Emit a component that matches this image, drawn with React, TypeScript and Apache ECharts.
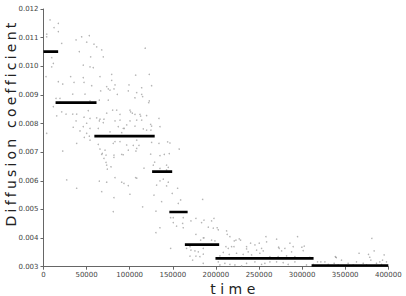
import React, { useEffect, useRef } from 'react';
import * as echarts from 'echarts';

// [time, diffusion coefficient] samples
const samples: [number, number][] = [
  [7500, 0.01162], [17200, 0.0115], [12200, 0.01135], [17200, 0.01121], [3700, 0.01112],
  [3700, 0.01103], [44300, 0.01103], [53100, 0.01107], [37700, 0.01092], [21100, 0.0108],
  [50100, 0.01084], [58500, 0.01077], [61700, 0.01068], [67500, 0.01057], [41500, 0.01051],
  [9500, 0.0103], [54700, 0.01033], [69300, 0.01033], [11400, 0.0101], [9500, 0.00998],
  [46100, 0.01004], [53900, 0.00998], [57700, 0.00995], [2900, 0.00964], [31500, 0.00964],
  [46100, 0.0096], [65500, 0.00964], [79100, 0.00972], [17200, 0.00946], [22300, 0.00938],
  [35400, 0.00944], [47000, 0.00944], [55900, 0.00932], [73300, 0.00929], [82900, 0.00935],
  [75100, 0.00921], [81700, 0.00921], [66300, 0.00914], [33900, 0.00903], [48100, 0.00903],
  [14500, 0.00888], [19100, 0.00888], [85600, 0.00902], [106900, 0.00969], [122700, 0.00972],
  [118000, 0.01063], [99100, 0.00935], [113900, 0.00925], [125400, 0.00932], [98300, 0.00914],
  [108100, 0.00908], [113900, 0.00902], [115000, 0.00894], [106100, 0.0089], [122700, 0.00879],
  [122000, 0.00873], [79100, 0.00951], [77100, 0.00917], [19100, 0.00874], [53900, 0.00879],
  [59700, 0.00874], [64700, 0.00882], [75100, 0.00882], [11400, 0.00859], [21100, 0.00841],
  [26100, 0.00833], [15300, 0.00827], [33900, 0.00833], [38500, 0.00833], [51900, 0.00845],
  [80200, 0.00847], [84900, 0.00847], [88700, 0.00832], [47000, 0.00822], [61700, 0.0082],
  [65500, 0.00815], [70100, 0.00815], [64700, 0.00809], [37700, 0.00809], [50100, 0.00801],
  [69300, 0.00803], [82900, 0.00809], [86700, 0.00789], [34500, 0.00787], [53900, 0.00783],
  [63500, 0.00783], [92500, 0.00783], [77100, 0.00771], [3700, 0.00766], [42300, 0.00774],
  [50100, 0.00766], [47300, 0.00752], [53100, 0.00756], [38500, 0.00731], [63500, 0.00727],
  [65500, 0.00711], [71300, 0.00707], [22300, 0.00704], [67500, 0.00692], [81700, 0.0069],
  [81700, 0.00682], [90700, 0.00692], [70100, 0.00678], [73300, 0.00655], [78300, 0.00649],
  [82900, 0.00611], [26900, 0.00603], [64700, 0.00599], [73300, 0.00595], [90700, 0.00595],
  [38500, 0.00574], [100300, 0.00847], [101100, 0.00841], [108100, 0.00812], [73300, 0.00836],
  [88700, 0.00812], [96500, 0.00795], [106100, 0.00791], [88700, 0.00737], [96500, 0.00725],
  [108100, 0.00742], [80900, 0.00731], [53900, 0.00818], [46100, 0.00789], [53900, 0.00742],
  [68200, 0.00696], [72500, 0.0069], [72500, 0.00664], [74000, 0.00641], [82900, 0.00737],
  [98300, 0.00707], [107200, 0.00704], [110700, 0.00724], [108100, 0.00713], [93300, 0.00591],
  [98300, 0.00583], [108100, 0.00609], [67500, 0.00562], [81700, 0.00541], [100300, 0.00553],
  [80900, 0.00492], [103000, 0.00836], [106100, 0.00832], [111900, 0.00832], [119600, 0.00828],
  [112700, 0.00826], [133900, 0.00818], [100300, 0.00809], [113900, 0.00812], [124300, 0.00797],
  [125400, 0.00791], [115700, 0.00781], [93700, 0.00783], [135100, 0.00789], [119600, 0.00777],
  [124600, 0.00777], [90700, 0.00768], [125400, 0.00734], [133900, 0.00731], [144000, 0.00736],
  [146700, 0.00732], [157400, 0.00711], [104100, 0.00724], [92500, 0.00691], [124300, 0.00693],
  [135100, 0.00688], [140100, 0.00692], [145900, 0.00695], [128900, 0.00665], [127300, 0.00655],
  [116500, 0.00644], [142800, 0.00655], [144700, 0.00647], [135100, 0.00643], [142800, 0.00638],
  [106900, 0.00611], [138900, 0.00606], [135100, 0.006], [144700, 0.00595], [131200, 0.00585],
  [142800, 0.00582], [155600, 0.00574], [128100, 0.0055], [137000, 0.00527], [149300, 0.00556],
  [159100, 0.00533], [156300, 0.00521], [115000, 0.00509], [184600, 0.00535], [130400, 0.00494],
  [147500, 0.00471], [150500, 0.00471], [162100, 0.00471], [176800, 0.00469], [171000, 0.0046],
  [150500, 0.00454], [154400, 0.00442], [161400, 0.00451], [162100, 0.00436], [183400, 0.00454],
  [135100, 0.00436], [130400, 0.00419], [176800, 0.00413], [185300, 0.00401], [182300, 0.00393],
  [147500, 0.00364], [166000, 0.00364], [171000, 0.00358], [175600, 0.00355], [179500, 0.00352],
  [169900, 0.00337], [176800, 0.00337], [173000, 0.00323], [181400, 0.00335], [185300, 0.00344],
  [169900, 0.0037], [186100, 0.00463], [195000, 0.0046], [191100, 0.00438], [201500, 0.00436],
  [195000, 0.00393], [202700, 0.00429], [212400, 0.00425], [216200, 0.00405], [223200, 0.00393],
  [228600, 0.00393], [218200, 0.0037], [214300, 0.00364], [235600, 0.0037], [245200, 0.00376],
  [258800, 0.00387], [237400, 0.00352], [247200, 0.00358], [197700, 0.00469], [196900, 0.00435],
  [186100, 0.00401], [198800, 0.0039], [213100, 0.00413], [221200, 0.0039], [227000, 0.00397],
  [220900, 0.0037], [211600, 0.0037], [240200, 0.00382], [235600, 0.00362], [250200, 0.00382],
  [253000, 0.00364], [258000, 0.00405], [254800, 0.00355], [270400, 0.00396], [273400, 0.00364],
  [276200, 0.00355], [280000, 0.00364], [285800, 0.00382], [289600, 0.0037], [287800, 0.00352],
  [185300, 0.00364], [208500, 0.0035], [204600, 0.00338], [215400, 0.00343], [224000, 0.00347],
  [231600, 0.00343], [241400, 0.00341], [251000, 0.00347], [262600, 0.00335], [272200, 0.00335],
  [282000, 0.00338], [291600, 0.00335], [202700, 0.00317], [204600, 0.00306], [210400, 0.00312],
  [216200, 0.00308], [222000, 0.00306], [229800, 0.00303], [235600, 0.00312], [245200, 0.00317],
  [253000, 0.00308], [256800, 0.00312], [262600, 0.00317], [270400, 0.00317], [278000, 0.00314],
  [283800, 0.00308], [291600, 0.00317], [185300, 0.00312], [294700, 0.00405], [299700, 0.00368],
  [302400, 0.00372], [301200, 0.00356], [272700, 0.00368], [339100, 0.00333], [338500, 0.00335],
  [339700, 0.00332], [366100, 0.00347], [380900, 0.00399], [383500, 0.00355], [377000, 0.00343],
  [378500, 0.00333], [395100, 0.00341], [393300, 0.00323], [309000, 0.00333], [317900, 0.00317],
  [321700, 0.00317], [326400, 0.00317], [345700, 0.00323], [337200, 0.00312], [353400, 0.00312],
  [330200, 0.00308], [379700, 0.00323], [397900, 0.00317], [390100, 0.00317], [386300, 0.00312],
  [370900, 0.00312], [363100, 0.00317], [305100, 0.00306], [312800, 0.00308], [341800, 0.00306],
  [359200, 0.00306], [374700, 0.00306], [392100, 0.00308],
];

// Piecewise-constant segments (black bars)
const segStart = [0, 14000, 59000, 126000, 146000, 164000, 199500, 311000];
const segEnd = [17000, 61500, 129000, 149300, 167200, 203800, 313300, 400000];
const segValue = [0.01051, 0.00873, 0.00756, 0.00632, 0.00491, 0.00377, 0.00329, 0.00304];

const xAxisTitle = 'time';
const yAxisTitle = 'Diffusion coefficient';

const FONT = '"DejaVu Sans", Verdana, sans-serif';

export default function App() {
  const ref = useRef<HTMLDivElement>(null);

  useEffect(() => {
    if (!ref.current) return;
    const chart = echarts.init(ref.current, null, { renderer: 'svg' });

    const segSeries = segValue.map((v, i) => ({
      type: 'line',
      data: [[segStart[i], v], [segEnd[i], v]],
      symbol: 'none',
      lineStyle: { color: '#000', width: 2.6 },
      z: 5,
      silent: true,
    }));

    chart.setOption({
      animation: false,
      backgroundColor: '#fff',
      grid: { left: 43.5, right: 17.7, top: 9, bottom: 29.3, containLabel: false },
      xAxis: {
        type: 'value',
        min: 0,
        max: 400000,
        interval: 50000,
        axisLine: { show: true, lineStyle: { color: '#666', width: 1 } },
        axisTick: { show: true, length: 3, lineStyle: { color: '#666' } },
        splitLine: { show: false },
        axisLabel: {
          color: '#444',
          fontSize: 7,
          fontFamily: FONT,
          margin: 5,
          formatter: (v: number) => String(v),
        },
      },
      yAxis: {
        type: 'value',
        min: 0.003,
        max: 0.012,
        interval: 0.001,
        axisLine: { show: true, lineStyle: { color: '#666', width: 1 } },
        axisTick: { show: true, length: 3, lineStyle: { color: '#666' } },
        splitLine: { show: false },
        axisLabel: {
          color: '#444',
          fontSize: 7,
          fontFamily: FONT,
          margin: 5,
          formatter: (v: number) => v.toFixed(3),
        },
      },
      graphic: [
        {
          type: 'text',
          x: 235,
          y: 289,
          style: {
            text: xAxisTitle,
            font: `14px ${FONT}`,
            fill: '#222',
            align: 'center',
            verticalAlign: 'middle',
          },
        },
        {
          type: 'text',
          x: 11,
          y: 123,
          rotation: Math.PI / 2,
          style: {
            text: yAxisTitle,
            font: `14px ${FONT}`,
            fill: '#222',
            align: 'center',
            verticalAlign: 'middle',
          },
        },
      ],
      series: [
        {
          type: 'scatter',
          data: samples,
          symbol: 'circle',
          symbolSize: 1.5,
          itemStyle: { color: '#a0a0a0' },
          silent: true,
          z: 2,
        },
        ...segSeries,
      ],
    });

    // widen letter spacing of the axis titles, as in the reference
    const texts = ref.current.querySelectorAll('text');
    texts.forEach((t) => {
      const s = t.textContent;
      if (s === xAxisTitle) (t as SVGTextElement).style.letterSpacing = '4.5px';
      if (s === yAxisTitle) (t as SVGTextElement).style.letterSpacing = '3.2px';
    });

    return () => chart.dispose();
  }, []);

  return (
    <div
      ref={ref}
      style={{ position: 'fixed', left: 0, top: 0, width: 406, height: 296, background: '#fff' }}
    />
  );
}
